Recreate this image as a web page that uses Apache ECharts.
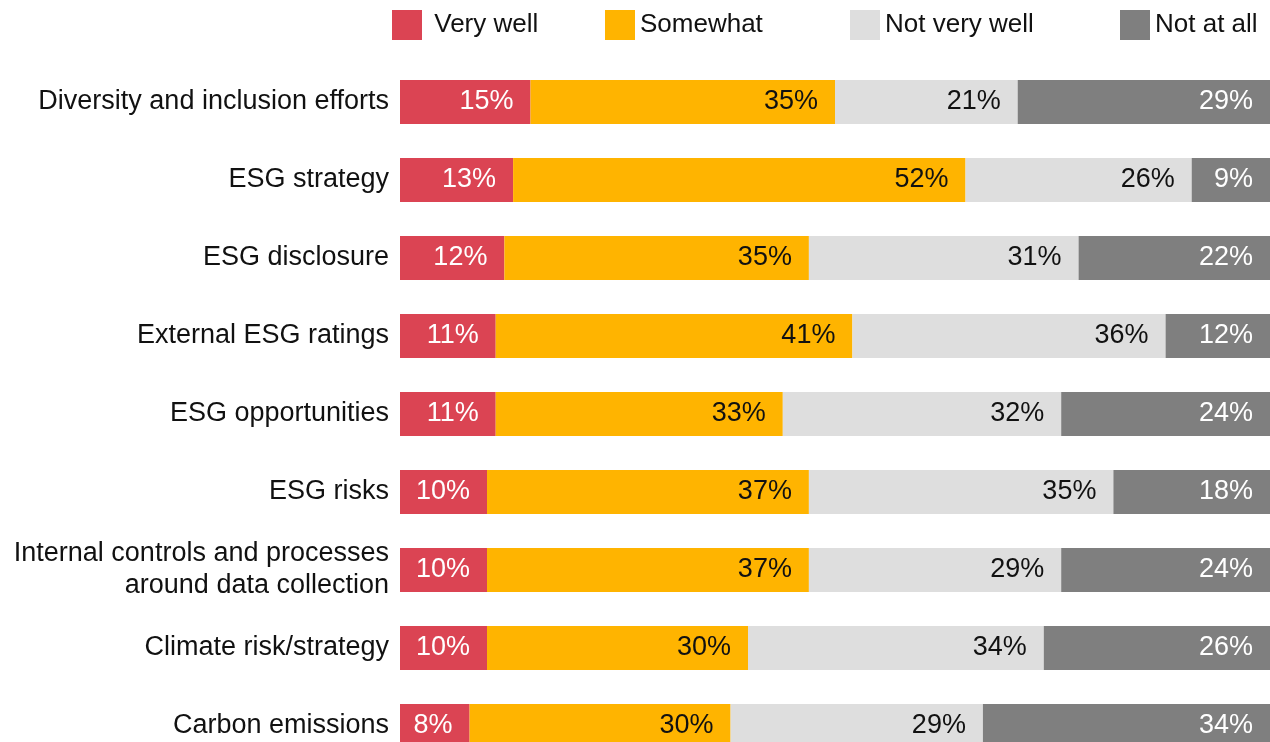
<!DOCTYPE html>
<html>
<head>
<meta charset="utf-8">
<script src="https://cdn.jsdelivr.net/npm/echarts@6/dist/echarts.min.js"></script>
<style>
  html, body { margin: 0; padding: 0; background: #fff; }
  #chart { width: 1270px; height: 742px; }
</style>
</head>
<body>
<div id="chart"></div>
<script>
// Survey topics, top to bottom
const categories = [
  'Diversity and inclusion efforts',
  'ESG strategy',
  'ESG disclosure',
  'External ESG ratings',
  'ESG opportunities',
  'ESG risks',
  'Internal controls and processes\naround data collection',
  'Climate risk/strategy',
  'Carbon emissions'
];

// Response shares (%) per topic
const veryWell    = [15, 13, 12, 11, 11, 10, 10, 10, 8];
const somewhat    = [35, 52, 35, 41, 33, 37, 37, 30, 30];
const notVeryWell = [21, 26, 31, 36, 32, 35, 29, 34, 29];
const notAtAll    = [29, 9, 22, 12, 24, 18, 24, 26, 34];

const seriesNames = ['Very well', 'Somewhat', 'Not very well', 'Not at all'];
const seriesData = [veryWell, somewhat, notVeryWell, notAtAll];
const fills = ['#DB4453', '#FFB400', '#DEDEDE', '#7F7F7F'];
const labelInk = ['#ffffff', '#111111', '#111111', '#ffffff'];
const legendLeft = [392, 605, 850, 1120];

const FONT = 'Liberation Sans, Arial, Helvetica, sans-serif';

const chart = echarts.init(document.getElementById('chart'), null, { renderer: 'canvas' });

chart.setOption({
  animation: false,
  backgroundColor: '#ffffff',
  textStyle: { fontFamily: FONT },
  legend: seriesNames.map((name, i) => ({
    data: [name],
    left: legendLeft[i],
    top: 10,
    padding: 0,
    itemWidth: 30,
    itemHeight: 30,
    icon: 'rect',
    selectedMode: false,
    formatter: i === 0 ? ' {name}' : '{name}',
    textStyle: { fontFamily: FONT, fontSize: 26, color: '#111111', padding: [3, 0, 0, 0] }
  })),
  // the last row runs past the bottom edge of the canvas
  grid: {
    left: 400, width: 870, top: 63, height: 702,
    containLabel: false,
    outerBoundsMode: 'none'
  },
  xAxis: {
    type: 'value',
    min: 0,
    max: 100,
    show: false,
    splitLine: { show: false }
  },
  yAxis: {
    type: 'category',
    data: categories,
    inverse: true,
    axisLine: { show: false },
    axisTick: { show: false },
    axisLabel: {
      margin: 11,
      fontFamily: FONT,
      fontSize: 27,
      lineHeight: 32,
      color: '#111111',
      align: 'right'
    }
  },
  series: seriesNames.map((name, i) => ({
    name: name,
    type: 'bar',
    stack: 'total',
    barWidth: 44,
    clip: true,
    itemStyle: { color: fills[i] },
    label: {
      show: true,
      position: 'insideRight',
      distance: 17,
      formatter: '{c}%',
      fontFamily: FONT,
      fontSize: 27,
      color: labelInk[i]
    },
    data: seriesData[i]
  }))
});
</script>
</body>
</html>
